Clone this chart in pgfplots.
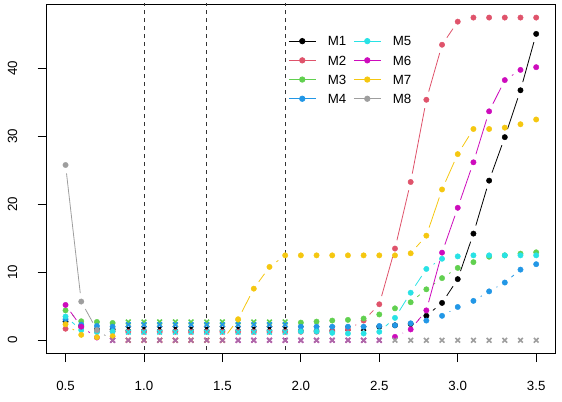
\documentclass[border=0pt]{standalone}
\usepackage{fontspec}
\setmainfont{Liberation Sans}
\usepackage{pgfplots}
\usepackage{pgfplotstable}
\pgfplotsset{compat=1.18}
\definecolor{c1}{HTML}{000000}
\definecolor{c2}{HTML}{DF536B}
\definecolor{c3}{HTML}{61D04F}
\definecolor{c4}{HTML}{2297E6}
\definecolor{c5}{HTML}{28E2E5}
\definecolor{c6}{HTML}{CD0BBC}
\definecolor{c7}{HTML}{F5C710}
\definecolor{c8}{HTML}{9E9E9E}

\pgfplotstableread{
x m1 m2 m3 m4 m5 m6 m7 m8
0.5 2.75 1.7 4.4 3.1 3.5 5.2 2.35 25.8
0.6 2.1 1.9 2.8 2.3 1.5 2.0 0.8 5.7
0.7 1.6 1.3 2.7 2.1 1.2 0.4 0.45 1.5
0.8 1.6 1.3 2.55 2.0 1.3 0 0.6 0
0.9 1.75 1.25 2.7 2.3 1.2 0 0 0
1.0 1.75 1.25 2.7 2.3 1.2 0 0 0
1.1 1.75 1.25 2.7 2.3 1.2 0 0 0
1.2 1.75 1.25 2.7 2.3 1.2 0 0 0
1.3 1.75 1.25 2.7 2.3 1.2 0 0 0
1.4 1.75 1.25 2.7 2.3 1.2 0 0 0
1.5 1.75 1.25 2.7 2.3 1.2 0 0 0
1.6 1.75 1.25 2.7 2.3 1.2 0 3.1 0
1.7 1.75 1.25 2.7 2.3 1.2 0 7.6 0
1.8 1.75 1.25 2.7 2.3 1.2 0 10.8 0
1.9 1.75 1.25 2.7 2.3 1.2 0 12.5 0
2.0 1.75 1.25 2.6 2.0 1.3 0 12.5 0
2.1 1.75 1.25 2.75 2.0 1.3 0 12.5 0
2.2 1.75 1.3 2.9 2.0 1.1 0 12.5 0
2.3 1.75 1.6 3.0 2.0 1.0 0 12.5 0
2.4 1.75 2.9 3.2 2.0 1.0 0 12.5 0
2.5 2.0 5.3 3.8 2.1 1.25 0 12.5 0
2.6 2.2 13.5 4.7 2.2 3.3 0.5 12.5 0
2.7 2.4 23.3 5.6 2.5 7.0 1.6 12.8 0
2.8 3.6 35.4 7.5 2.9 10.5 4.4 15.4 0
2.9 5.5 43.5 9.15 3.6 12.0 12.9 22.2 0
3.0 9.0 46.9 10.65 4.9 12.35 19.5 27.4 0
3.1 15.7 47.5 11.5 5.8 12.5 26.2 31.1 0
3.2 23.5 47.5 12.3 7.2 12.5 33.7 31.1 0
3.3 29.9 47.5 12.5 8.5 12.5 38.3 31.3 0
3.4 36.8 47.5 12.75 10.4 12.5 39.8 31.8 0
3.5 45.1 47.5 12.95 11.2 12.5 40.2 32.5 0
}\data

% step to the next point (d) and the share of each segment left blank at each end (f),
% as R's type="b" does: a gap of 8.5pt round every point (15.679pt per 0.1 in x, 6.79pt per unit in y)
\newcommand{\mkcols}[1]{%
 \pgfplotstablecreatecol[create col/expr={\nextrow{m#1}-\thisrow{m#1}}]{d#1}\data
 \pgfplotstablecreatecol[create col/expr={min(8.5/sqrt(245.83+(6.79*\thisrow{d#1})*(6.79*\thisrow{d#1})),0.5)}]{f#1}\data
}
\mkcols{1}\mkcols{2}\mkcols{3}\mkcols{4}\mkcols{5}\mkcols{6}\mkcols{7}\mkcols{8}

\newcommand{\drawseries}[4]{%
 \addplot[#1, line width=0.8pt, forget plot,
   quiver={u=0.1*(1-2*\thisrow{f#2}), v=\thisrow{d#2}*(1-2*\thisrow{f#2})},
   skip coords between index={30}{31}]
   table[x expr=\thisrow{x}+0.1*\thisrow{f#2}, y expr=\thisrow{m#2}+\thisrow{d#2}*\thisrow{f#2}] {\data};
 \addplot[#1, only marks, mark=*, mark size=2.7pt, forget plot,
   x filter/.expression={(x>#3 && x<#4) ? nan : x}] table[x=x, y=m#2] {\data};
 \addplot[#1, only marks, mark=x, mark size=3.3pt, line width=1.6pt, forget plot,
   x filter/.expression={(x>#3 && x<#4) ? x : nan}] table[x=x, y=m#2] {\data};
}

\begin{document}
\begin{tikzpicture}
\begin{axis}[
  scale only axis, width=508pt, height=349pt,
  xmin=0.38, xmax=3.62, ymin=-1.9, ymax=49.5,
  axis line style={line width=0.8pt},
  xtick={0.5,1.0,1.5,2.0,2.5,3.0,3.5},
  ytick={0,10,20,30,40},
  xticklabel={\pgfmathprintnumber[fixed,fixed zerofill,precision=1]{\tick}},
  /pgf/number format/assume math mode=true,
  tick align=outside, major tick length=9pt,
  xtick pos=bottom, ytick pos=left,
  tick style={black, line width=0.8pt},
  ticklabel style={font=\fontsize{13.3}{16}\selectfont},
  yticklabel style={rotate=90, anchor=south, inner ysep=20.2pt, overlay},
  xticklabel shift=15.5pt,
  legend columns=2,
  legend cell align=left,
  legend image code/.code={%
    \draw[mark repeat=2, mark phase=2, #1] plot coordinates {(0pt,0pt) (13.5pt,0pt) (27pt,0pt)};
    \path (31.7pt,0pt);},
  legend style={draw=none, fill=none, at={(axis description cs:0.475,0.908)}, anchor=north west,
    inner sep=0pt, column sep=7pt, row sep=9.6pt, font=\fontsize{13.3}{16}\selectfont,
    nodes={inner ysep=0pt, inner xsep=0pt, text height=9.6pt, text depth=0pt}},
]
\drawseries{c1}{1}{0.85}{2.45}
\drawseries{c2}{2}{10}{10}
\drawseries{c3}{3}{0.85}{1.95}
\drawseries{c4}{4}{0.85}{1.95}
\drawseries{c5}{5}{0.85}{1.95}
\drawseries{c6}{6}{0.75}{2.55}
\drawseries{c7}{7}{0.85}{1.55}
\drawseries{c8}{8}{0.75}{3.6}
% M6 crosses showing through the M8 crosses at zero
\addplot[c6, opacity=0.35, only marks, mark=x, mark size=3.3pt, line width=1.6pt, forget plot,
   x filter/.expression={(x>0.75 && x<2.55) ? x : nan}] table[x=x, y=m6] {\data};

\addplot[black!80, line width=0.9pt, dash pattern=on 4pt off 4pt, forget plot] coordinates {(1.0,-5) (1.0,60)};
\addplot[black!80, line width=0.9pt, dash pattern=on 4pt off 4pt, forget plot] coordinates {(1.4,-5) (1.4,60)};
\addplot[black!80, line width=0.9pt, dash pattern=on 4pt off 4pt, forget plot] coordinates {(1.9,-5) (1.9,60)};

\addlegendimage{c1, line width=0.8pt, mark=*, mark size=2.7pt}\addlegendentry{M1}
\addlegendimage{c5, line width=0.8pt, mark=*, mark size=2.7pt}\addlegendentry{M5}
\addlegendimage{c2, line width=0.8pt, mark=*, mark size=2.7pt}\addlegendentry{M2}
\addlegendimage{c6, line width=0.8pt, mark=*, mark size=2.7pt}\addlegendentry{M6}
\addlegendimage{c3, line width=0.8pt, mark=*, mark size=2.7pt}\addlegendentry{M3}
\addlegendimage{c7, line width=0.8pt, mark=*, mark size=2.7pt}\addlegendentry{M7}
\addlegendimage{c4, line width=0.8pt, mark=*, mark size=2.7pt}\addlegendentry{M4}
\addlegendimage{c8, line width=0.8pt, mark=*, mark size=2.7pt}\addlegendentry{M8}
\end{axis}
\path (current axis.south west) ++(-46.7pt,-48pt);
\path (current axis.north east) ++(7pt,4pt);
\end{tikzpicture}
\end{document}
